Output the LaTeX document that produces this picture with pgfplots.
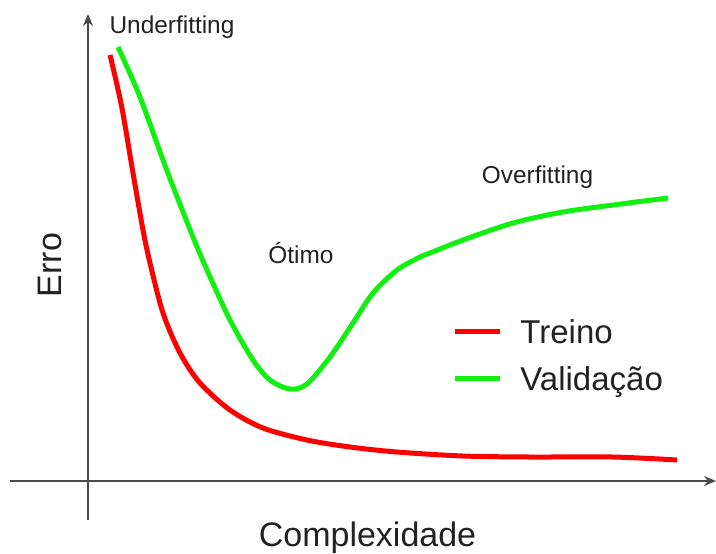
\documentclass[border=0pt]{standalone}
\usepackage{fontspec}
\setmainfont{Liberation Sans}
\usepackage{pgfplots}
\pgfplotsset{compat=1.18}
\usetikzlibrary{arrows.meta}
\definecolor{axisgray}{HTML}{4A4A4A}
\definecolor{redc}{HTML}{FF0000}
\definecolor{greenc}{HTML}{11F011}
\definecolor{txt}{HTML}{222222}
\begin{document}
\begin{tikzpicture}
\begin{axis}[
  x=0.5pt, y=0.5pt,
  xmin=-78, xmax=628, ymin=-39, ymax=467,
  axis lines=middle,
  x axis line style={-{Stealth[length=6pt,width=5pt]}},
  y axis line style={-{Stealth[length=6pt,width=5pt]}},
  axis line style={color=axisgray, line width=1pt},
  ticks=none,
  clip=false,
  legend style={at={(axis cs:364,162)}, anchor=north west, draw=none, fill=none,
    inner sep=0pt, column sep=9pt, row sep=8.5pt,
    nodes={inner sep=0pt, text height=12pt, text depth=3pt, text=txt},
    font=\fontsize{16.5}{19}\selectfont},
  legend cell align=left,
  legend image code/.code={\draw[#1] (0pt,1.5pt) -- (22.5pt,1.5pt);},
]
% red: training error (pixel coordinates converted: u = px-88, v = 481-py)
\addplot[redc, line width=2.5pt, smooth, tension=0.5] coordinates {
(22,426) (33.7,374.3) (45,308) (55,251) (62,218) (75,168) (92,128) (112,98)
(142,71) (175,53) (219,41) (262,34) (309,29) (375,25) (442,24) (525,24) (589,21)};
\addlegendentry{Treino}
\addplot[greenc, line width=2.5pt, smooth, tension=0.5] coordinates {
(30,434) (52,384) (78.7,311) (105,244) (119,211) (142,161) (165,121) (182,101)
(202,92) (219,97) (242,124) (265,158) (285,188) (309,211) (332,224) (342,228)
(375,241) (425,258) (475,269) (525,276) (580,283)};
\addlegendentry{Validação}
\node[anchor=base, text=txt, font=\fontsize{12.2}{14}\selectfont] at (axis cs:84,448) {Underfitting};
\node[anchor=base, text=txt, font=\fontsize{12.2}{14}\selectfont] at (axis cs:213,218) {Ótimo};
\node[anchor=base, text=txt, font=\fontsize{12.2}{14}\selectfont] at (axis cs:449.5,298) {Overfitting};
\node[anchor=base, rotate=90, text=txt, font=\fontsize{17}{20}\selectfont] at (axis cs:-26.3,216) {Erro};
\node[anchor=base, text=txt, font=\fontsize{17}{20}\selectfont] at (axis cs:279.5,-65.7) {Complexidade};
\coordinate (BL) at (axis cs:-88,-72);
\coordinate (TR) at (axis cs:628,481);
\end{axis}
\pgfresetboundingbox
\path[use as bounding box] (BL) rectangle (TR);
\end{tikzpicture}
\end{document}
